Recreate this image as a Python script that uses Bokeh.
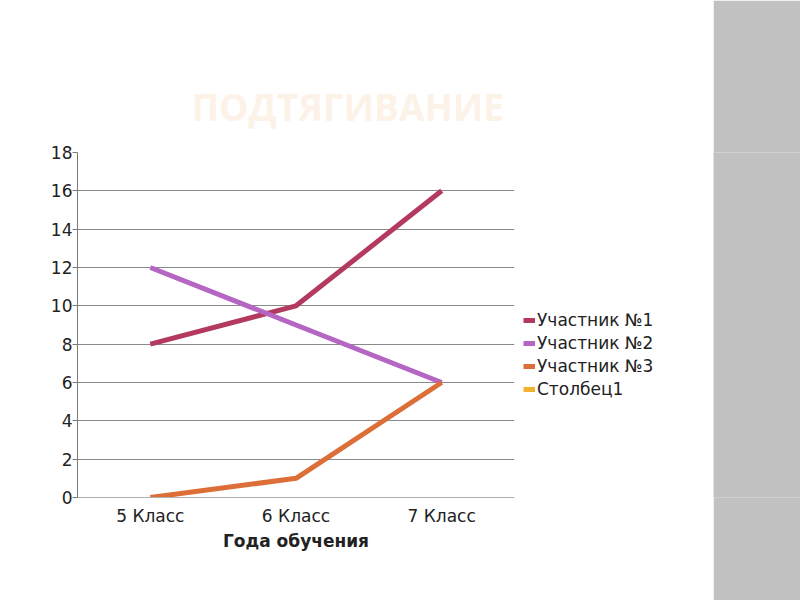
from bokeh.plotting import figure
from bokeh.models import FactorRange, Range1d, FixedTicker, Legend, LegendItem, Title
from bokeh.layouts import row
from bokeh.embed import file_html
from bokeh.resources import INLINE

nan = float("nan")

# ---- data ----
categories = ["5 Класс", "6 Класс", "7 Класс"]
uch1 = [8, 10, 16]
uch2 = [12, 9, 6]
uch3 = [0, 1, 6]
stolbets1 = [nan, nan, nan]   # legend-only series, no values shown
series_names = ["Участник №1", "Участник №2", "Участник №3", "Столбец1"]
series_values = [uch1, uch2, uch3, stolbets1]
colors = ["#b33a5e", "#b466c2", "#dc6f37", "#f2b12f"]
y_ticks = list(range(0, 19, 2))
title_text = "ПОДТЯГИВАНИЕ"
x_title = "Года обучения"

FONT = "DejaVu Sans"

# ---- main chart ----
p = figure(x_range=FactorRange(*categories), y_range=Range1d(0, 18),
           width=520, height=600, output_backend="svg", toolbar_location=None,
           min_border_left=77, min_border_right=6, min_border_top=152,
           min_border_bottom=103)
p.background_fill_color = "white"
p.border_fill_color = "white"
p.outline_line_color = None

for vals, col in zip(series_values, colors):
    p.line(x=categories, y=vals, line_width=5, line_color=col, line_join="round")

p.yaxis.ticker = FixedTicker(ticks=y_ticks)
p.yaxis.minor_tick_line_color = None
p.yaxis.major_tick_out = 5
p.yaxis.major_tick_in = 0
p.yaxis.axis_line_color = "#7a7a7a"
p.yaxis.major_tick_line_color = "#7a7a7a"
p.yaxis.major_label_standoff = 0
p.yaxis.major_label_text_font = FONT
p.yaxis.major_label_text_font_size = "17px"
p.yaxis.major_label_text_color = "#222222"

p.xaxis.major_tick_line_color = None
p.xaxis.major_tick_out = 0
p.xaxis.major_tick_in = 0
p.xaxis.axis_line_color = "#b0b0b0"
p.xaxis.major_label_standoff = 8
p.xaxis.major_label_text_font = FONT
p.xaxis.major_label_text_font_size = "17px"
p.xaxis.major_label_text_color = "#222222"
p.xaxis.axis_label = x_title
p.xaxis.axis_label_text_font = FONT
p.xaxis.axis_label_text_font_size = "17px"
p.xaxis.axis_label_text_font_style = "bold"
p.xaxis.axis_label_text_color = "#222222"
p.xaxis.axis_label_standoff = 2

p.xgrid.grid_line_color = None
p.ygrid.grid_line_color = "#8a8a8a"
p.ygrid.grid_line_width = 1

title = Title(text=title_text, align="left", offset=114, standoff=41,
              text_font="Open Sans", text_font_size="37px", text_font_style="bold",
              text_color="#fcf2e8")
p.add_layout(title, "above")

# ---- legend panel ----
lg = figure(width=193, height=600, x_range=Range1d(0, 1), y_range=Range1d(0, 1),
            x_axis_type=None, y_axis_type=None, output_backend="svg",
            toolbar_location=None, min_border_left=0, min_border_right=0,
            min_border_top=152, min_border_bottom=103)
lg.grid.visible = False
lg.outline_line_color = None
lg.background_fill_color = "white"
lg.border_fill_color = "white"
items = []
for name, col in zip(series_names, colors):
    r = lg.line(x=[nan], y=[nan], line_width=5, line_color=col)
    items.append(LegendItem(label=name, renderers=[r]))
legend = Legend(items=items, location=(3, 98), orientation="vertical",
                border_line_color=None, background_fill_alpha=0,
                padding=0, margin=0, spacing=3, glyph_width=12, glyph_height=20,
                label_height=20, label_standoff=2, label_text_font=FONT,
                label_text_font_size="17px", label_text_color="#222222")
lg.add_layout(legend, "center")

# ---- decorative stripe on the right ----
s = figure(width=87, height=600, x_range=Range1d(0, 1), y_range=Range1d(0, 1),
           x_axis_type=None, y_axis_type=None, output_backend="svg",
           toolbar_location=None, min_border=0)
s.grid.visible = False
s.outline_line_color = None
s.background_fill_color = "#c1c1c1"
s.border_fill_color = "#c1c1c1"

layout = row(p, lg, s)
open("out.html", "w").write(file_html(layout, INLINE))
